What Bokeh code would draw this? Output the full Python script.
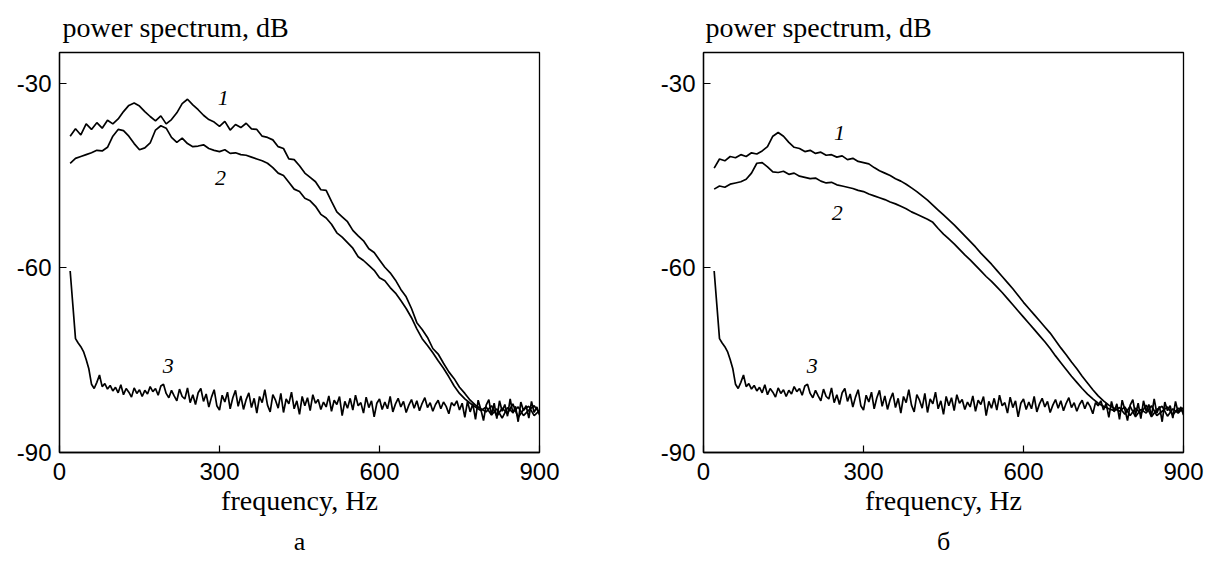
from bokeh.plotting import figure
from bokeh.layouts import row
from bokeh.models import Title, Label, FixedTicker
from bokeh.embed import file_html
from bokeh.resources import INLINE

# ---------------- data ----------------
freq10 = list(range(20, 901, 10))
freq5 = list(range(20, 901, 5))

# panel a
a_curve1 = [-38.6, -37.4, -38.4, -36.6, -37.5, -36.4, -37.3, -36.0, -36.6, -35.8,
            -34.6, -33.6, -33.2, -33.7, -34.6, -35.4, -36.1, -35.3, -36.6, -35.9,
            -34.8, -33.3, -32.6, -33.5, -34.3, -35.2, -35.9, -36.3, -37.0, -36.2,
            -37.6, -36.7, -37.2, -36.5, -37.4, -37.5, -38.6, -38.8, -39.2, -40.3,
            -40.6, -42.3, -42.4, -43.4, -44.6, -45.3, -46.0, -47.3, -47.4, -49.2,
            -50.9, -51.7, -52.5, -53.9, -54.8, -55.6, -56.9, -57.5, -58.7, -59.9,
            -60.8, -62.0, -63.5, -64.7, -66.6, -68.9, -70.0, -71.3, -73.1, -74.0,
            -75.5, -76.9, -78.0, -79.4, -80.4, -81.5, -82.3, -82.9, -83.4, -82.4,
            -84.1, -82.8, -83.7, -82.1, -84.3, -83.0, -82.5, -84.0, -83.2]
a_curve2 = [-43.0, -42.2, -41.9, -41.6, -41.3, -40.9, -41.0, -40.4, -38.6, -37.5,
            -37.7, -38.6, -39.8, -40.8, -40.5, -39.7, -37.6, -36.9, -37.3, -38.8,
            -39.6, -38.9, -39.8, -40.3, -40.2, -40.0, -40.6, -40.9, -41.1, -40.8,
            -41.4, -41.3, -41.6, -41.7, -42.0, -42.3, -42.6, -43.0, -43.7, -44.6,
            -45.0, -46.1, -47.2, -47.6, -48.7, -49.1, -50.0, -51.3, -51.9, -52.9,
            -54.3, -55.0, -55.9, -56.8, -58.2, -58.8, -59.6, -60.4, -61.6, -62.1,
            -63.2, -64.1, -65.3, -66.6, -68.1, -69.9, -71.5, -72.6, -73.8, -75.1,
            -76.3, -77.7, -79.2, -80.4, -81.3, -82.0, -82.6, -83.2, -82.6, -83.9,
            -82.9, -84.4, -82.7, -83.5, -82.6, -84.0, -83.1, -82.4, -83.6]

# panel b
b_curve1 = [-43.8, -42.3, -42.6, -41.9, -42.1, -41.6, -41.9, -41.3, -41.5, -41.0,
            -40.3, -38.6, -38.0, -38.6, -39.6, -40.4, -40.6, -41.1, -40.9, -41.4,
            -41.2, -41.7, -41.6, -42.0, -41.8, -42.4, -42.2, -42.7, -42.9, -43.1,
            -43.7, -44.2, -44.6, -45.0, -45.5, -45.9, -46.4, -47.0, -47.6, -48.3,
            -49.0, -49.8, -50.6, -51.4, -52.2, -53.0, -53.9, -54.8, -55.7, -56.6,
            -57.6, -58.5, -59.4, -60.4, -61.4, -62.4, -63.4, -64.5, -65.6, -66.6,
            -67.6, -68.6, -69.6, -70.6, -71.8, -73.0, -74.1, -75.3, -76.4, -77.6,
            -78.7, -79.8, -80.8, -81.6, -82.3, -82.8, -83.3, -82.6, -84.0, -82.8,
            -83.7, -82.3, -84.2, -83.0, -82.5, -84.1, -82.9, -83.6, -82.7]
b_curve2 = [-47.2, -46.7, -46.9, -46.4, -46.2, -46.0, -45.6, -44.6, -43.0, -42.9,
            -43.6, -44.4, -44.5, -44.3, -44.8, -44.6, -45.1, -45.3, -45.5, -45.4,
            -45.9, -46.2, -46.1, -46.5, -46.7, -46.9, -47.1, -47.4, -47.6, -48.0,
            -48.3, -48.6, -48.9, -49.3, -49.6, -50.0, -50.4, -50.9, -51.3, -51.7,
            -52.1, -52.6, -53.6, -54.5, -55.3, -56.1, -57.0, -57.9, -58.7, -59.6,
            -60.5, -61.4, -62.2, -63.1, -64.0, -65.0, -66.0, -67.0, -68.0, -69.0,
            -70.0, -71.0, -72.0, -73.1, -74.3, -75.4, -76.5, -77.6, -78.6, -79.6,
            -80.5, -81.3, -82.0, -82.5, -82.9, -83.2, -82.7, -83.8, -82.5, -84.2,
            -83.0, -83.6, -82.4, -84.0, -83.3, -82.6, -83.9, -82.8, -83.4]

# curve 3 (background noise, same in both panels)
noise3 = [-60.5, -66.0, -71.5, -72.2, -72.8, -73.6, -74.9, -76.4, -78.9, -79.6,
          -78.6, -77.4, -79.3, -78.8, -79.7, -79.1, -80.0, -79.4, -80.3, -79.0,
          -80.6, -79.6, -80.2, -81.0, -79.5, -80.4, -79.8, -80.9, -79.9, -80.5,
          -79.3, -80.1, -79.6, -80.7, -79.2, -78.9, -80.4, -81.1, -79.9, -80.8,
          -81.6, -79.7, -80.9, -81.3, -79.5, -81.9, -80.6, -82.2, -80.3, -79.6,
          -81.7, -80.5, -82.6, -81.0, -79.8, -82.4, -83.1, -80.7, -81.8, -80.2,
          -82.9, -81.1, -79.9, -82.5, -80.8, -83.0, -81.4, -80.3, -82.7, -81.2,
          -83.6, -80.9, -81.9, -79.8, -82.3, -83.4, -80.6, -81.5, -82.8, -80.4,
          -83.5, -81.3, -82.1, -80.2, -82.9, -81.6, -83.8, -80.9, -82.4, -81.1,
          -83.2, -80.6, -82.0, -81.4, -83.0, -81.8, -82.6, -80.8, -83.3, -81.5,
          -82.2, -80.9, -84.0, -81.7, -82.8, -81.2, -83.1, -80.7, -82.4, -81.9,
          -83.6, -81.0, -82.7, -81.6, -84.2, -82.0, -81.3, -83.0, -81.8, -82.9,
          -80.9, -83.4, -82.1, -81.2, -82.6, -81.7, -83.5, -82.3, -81.4, -82.8,
          -81.6, -83.2, -82.0, -81.1, -82.7, -81.9, -83.3, -82.2, -81.5, -82.9,
          -81.8, -82.5, -83.7, -81.9, -82.4, -81.6, -83.1, -82.0, -84.3, -81.7,
          -83.4, -82.1, -84.6, -81.5, -83.0, -84.8, -82.3, -81.4, -83.9, -82.0,
          -84.5, -81.6, -83.3, -82.2, -84.1, -81.3, -83.6, -82.5, -85.0, -81.8,
          -83.2, -82.4, -84.4, -81.7, -83.5, -82.6, -83.9]

x_ticks = [0, 300, 600, 900]
y_ticks = [-90, -60, -30]
y_tick_labels = {-90: "-90", -60: "-60", -30: "-30"}
y_title = "power spectrum, dB"
x_title = "frequency, Hz"
panel_letters = ["а", "б"]
curve_names = ["1", "2", "3"]
a_label_pos = [(307, -32.4), (302, -45.4), (204, -75.9)]
b_label_pos = [(255, -38.1), (251, -51.1), (204, -76.0)]

SERIF = "Liberation Serif"
SANS = "Liberation Sans"


def make_panel(c1, c2, letter, label_pos, left_border, right_border, width, title_offset):
    p = figure(width=width, height=567, x_range=(0, 900), y_range=(-90, -25),
               output_backend="svg", toolbar_location=None,
               min_border_left=left_border, min_border_right=right_border,
               min_border_top=52, min_border_bottom=115)
    p.background_fill_color = "white"
    p.border_fill_color = "white"
    p.outline_line_color = "black"
    p.outline_line_width = 1.3
    p.grid.visible = False

    p.line(freq10, c1, line_color="black", line_width=1.7)
    p.line(freq10, c2, line_color="black", line_width=1.7)
    p.line(freq5, noise3, line_color="black", line_width=1.7)

    for name, (lx, ly) in zip(curve_names, label_pos):
        p.add_layout(Label(x=lx, y=ly, text=name, text_font=SERIF,
                           text_font_style="italic", text_font_size="22px",
                           text_align="center", text_baseline="middle",
                           text_color="black"))

    for ax in (p.xaxis[0], p.yaxis[0]):
        ax.axis_line_color = "black"
        ax.axis_line_width = 1.3
        ax.major_tick_in = 7
        ax.major_tick_out = 0
        ax.major_tick_line_color = "black"
        ax.major_tick_line_width = 1.2
        ax.minor_tick_line_color = None
        ax.major_label_text_font = SANS
        ax.major_label_text_font_size = "24px"
        ax.major_label_text_color = "black"

    p.xaxis.ticker = FixedTicker(ticks=x_ticks)
    p.yaxis.ticker = FixedTicker(ticks=y_ticks)
    p.yaxis.major_label_overrides = y_tick_labels
    p.xaxis.major_label_standoff = 10
    p.yaxis.major_label_standoff = 8

    p.xaxis.axis_label = x_title
    p.xaxis.axis_label_text_font = SERIF
    p.xaxis.axis_label_text_font_style = "normal"
    p.xaxis.axis_label_text_font_size = "28px"
    p.xaxis.axis_label_text_color = "black"
    p.xaxis.axis_label_standoff = 2

    p.title.text = y_title
    p.title.align = "left"
    p.title.offset = title_offset
    p.title.text_font = SERIF
    p.title.text_font_style = "normal"
    p.title.text_font_size = "28px"
    p.title.text_color = "black"
    p.title.standoff = 19

    p.add_layout(Title(text=letter, align="center", text_font=SERIF,
                       text_font_style="normal", text_font_size="26px",
                       text_color="black", standoff=12), "below")
    return p


pa = make_panel(a_curve1, a_curve2, panel_letters[0], a_label_pos, 59, 64, 603, 3)
pb = make_panel(b_curve1, b_curve2, panel_letters[1], b_label_pos, 100, 24, 604, 2)

layout = row(pa, pb)
open("out.html", "w").write(file_html(layout, INLINE))
